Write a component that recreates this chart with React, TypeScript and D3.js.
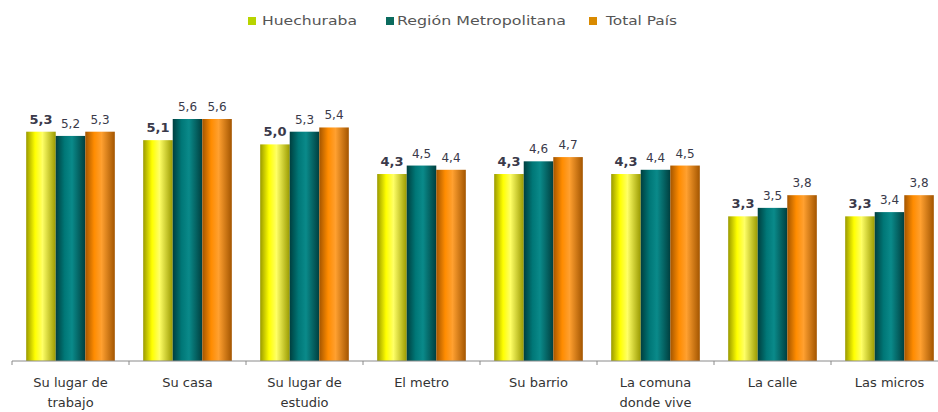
import React from "react";
import * as d3 from "d3";

const categories = [
  ["Su lugar de", "trabajo"],
  ["Su casa"],
  ["Su lugar de", "estudio"],
  ["El metro"],
  ["Su barrio"],
  ["La comuna", "donde vive"],
  ["La calle"],
  ["Las micros"],
];
const seriesNames = ["Huechuraba", "Región Metropolitana", "Total País"];
const huechuraba = [5.3, 5.1, 5.0, 4.3, 4.3, 4.3, 3.3, 3.3];
const regionMetropolitana = [5.2, 5.6, 5.3, 4.5, 4.6, 4.4, 3.5, 3.4];
const totalPais = [5.3, 5.6, 5.4, 4.4, 4.7, 4.5, 3.8, 3.8];

const W = 938;
const H = 412;
const colors = [
  { dark: "#9a9a00", mid: "#ffff00", light: "#ffff66", legend: "#b8d400" },
  { dark: "#003f3f", mid: "#007777", light: "#0a8a8a", legend: "#0b6b5e" },
  { dark: "#a35500", mid: "#ff8c00", light: "#ffa030", legend: "#d98a00" },
];

export default function App() {
  const series = [huechuraba, regionMetropolitana, totalPais];
  const x0 = d3
    .scaleBand<number>()
    .domain(d3.range(categories.length))
    .range([12, 12 + 117 * categories.length])
    .paddingInner(0)
    .paddingOuter(0);
  const x1 = d3
    .scaleBand<number>()
    .domain([0, 1, 2])
    .range([0, x0.bandwidth()])
    .paddingInner(0)
    .paddingOuter(0.48);
  const y = d3.scaleLinear().domain([0, 5.6]).range([356, 119]);
  const baseY = 361;
  const fmt = (v: number) => v.toFixed(1).replace(".", ",");
  const font = "'DejaVu Sans', 'Liberation Sans', sans-serif";

  const legendItems = [
    { x: 248, tx: 262, len: 95 },
    { x: 386, tx: 397, len: 169 },
    { x: 589, tx: 606, len: 71 },
  ];

  return (
    <svg
      width={W}
      height={H}
      style={{ position: "absolute", left: 0, top: 0, background: "#fff" }}
    >
      <defs>
        {colors.map((c, i) => (
          <linearGradient key={i} id={`g${i}`} x1="0" x2="1" y1="0" y2="0">
            <stop offset="0%" stopColor={c.dark} />
            <stop offset="30%" stopColor={c.mid} />
            <stop offset="55%" stopColor={c.light} />
            <stop offset="100%" stopColor={c.dark} />
          </linearGradient>
        ))}
      </defs>

      {/* legend */}
      {seriesNames.map((s, i) => (
        <g key={s}>
          <rect x={legendItems[i].x} y={17} width={8} height={8} fill={colors[i].legend} />
          <text
            x={legendItems[i].tx}
            y={25}
            fontSize={12}
            fontFamily={font}
            fill="#555"
            textLength={legendItems[i].len}
            lengthAdjust="spacingAndGlyphs"
          >
            {s}
          </text>
        </g>
      ))}

      {/* bars */}
      {categories.map((c, ci) => (
        <g key={ci} transform={`translate(${x0(ci)},0)`}>
          {series.map((arr, si) => {
            const v = arr[ci];
            const bx = x1(si)!;
            const bw = x1.bandwidth();
            return (
              <g key={si}>
                <rect
                  x={bx}
                  y={y(v)}
                  width={bw}
                  height={baseY - y(v)}
                  fill={`url(#g${si})`}
                />
                <text
                  x={bx + bw / 2}
                  y={y(v) - 8}
                  textAnchor="middle"
                  fontSize={si === 0 ? 13 : 12}
                  fontWeight={si === 0 ? "bold" : "normal"}
                  fontFamily={font}
                  fill="#3a3a4a"
                >
                  {fmt(v)}
                </text>
              </g>
            );
          })}
        </g>
      ))}

      {/* axis */}
      <line x1={12} x2={W} y1={baseY} y2={baseY} stroke="#8a8a8a" strokeWidth={1} />
      {d3.range(categories.length + 1).map((i) => {
        const tx = 12 + 117 * i;
        return (
          <line key={i} x1={tx} x2={tx} y1={baseY} y2={baseY + 4} stroke="#8a8a8a" />
        );
      })}
      {categories.map((c, ci) => (
        <text
          key={ci}
          x={x0(ci)! + x0.bandwidth() / 2}
          y={387}
          textAnchor="middle"
          fontSize={13}
          fontFamily={font}
          fill="#333"
        >
          {c.map((line, li) => (
            <tspan key={li} x={x0(ci)! + x0.bandwidth() / 2} dy={li === 0 ? 0 : 20}>
              {line}
            </tspan>
          ))}
        </text>
      ))}
    </svg>
  );
}
